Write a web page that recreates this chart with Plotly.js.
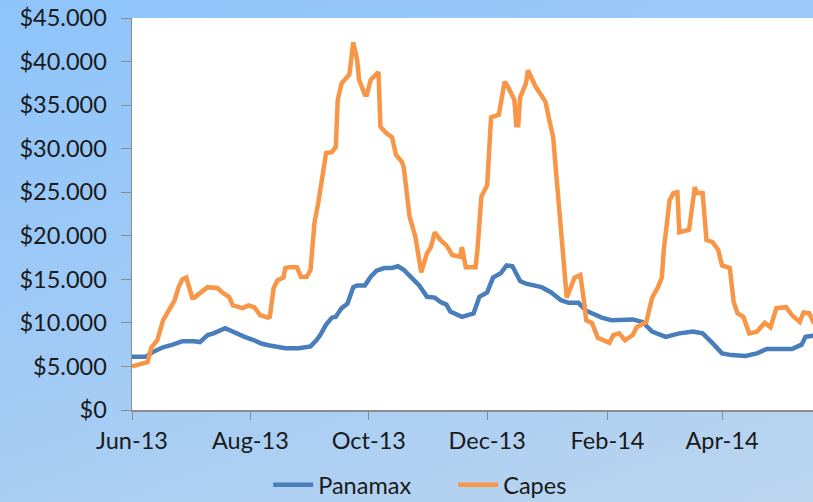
<!DOCTYPE html>
<html>
<head>
<meta charset="utf-8">
<script src="https://cdn.plot.ly/plotly-3.0.1.min.js"></script>
<style>
html,body{margin:0;padding:0;}
#bg{width:813px;height:502px;background:linear-gradient(160deg,#8ec4fa 0%,#9fcaf6 45%,#bcd5ee 100%);}
</style>
</head>
<body>
<div id="bg"><div id="chart" style="width:813px;height:502px;"></div></div>
<script>
const capesDates = ['2013-06-01','2013-06-09','2013-06-11','2013-06-14','2013-06-17','2013-06-21','2013-06-23','2013-06-25','2013-06-27','2013-06-29',
'2013-07-02','2013-07-03','2013-07-06','2013-07-10','2013-07-15','2013-07-18','2013-07-21','2013-07-23','2013-07-28','2013-07-31',
'2013-08-03','2013-08-06','2013-08-10','2013-08-11','2013-08-13','2013-08-15','2013-08-18','2013-08-19','2013-08-21','2013-08-25','2013-08-27','2013-08-30',
'2013-09-01','2013-09-03','2013-09-05','2013-09-09','2013-09-12','2013-09-14','2013-09-15','2013-09-17','2013-09-21','2013-09-23','2013-09-25','2013-09-26','2013-09-29','2013-09-30',
'2013-10-02','2013-10-06','2013-10-07','2013-10-10','2013-10-13','2013-10-15','2013-10-18','2013-10-19','2013-10-22','2013-10-25','2013-10-28','2013-10-31',
'2013-11-02','2013-11-04','2013-11-07','2013-11-10','2013-11-13','2013-11-17','2013-11-18','2013-11-20','2013-11-25','2013-11-26','2013-11-28',
'2013-12-01','2013-12-03','2013-12-07','2013-12-10','2013-12-12','2013-12-15','2013-12-16','2013-12-17','2013-12-18','2013-12-21','2013-12-22','2013-12-26','2013-12-31',
'2014-01-02','2014-01-04','2014-01-06','2014-01-09','2014-01-11','2014-01-15','2014-01-18','2014-01-20','2014-01-21','2014-01-24','2014-01-27',
'2014-02-02','2014-02-04','2014-02-07','2014-02-10','2014-02-14','2014-02-16','2014-02-21','2014-02-24','2014-02-27',
'2014-03-01','2014-03-02','2014-03-05','2014-03-07','2014-03-09','2014-03-10','2014-03-15','2014-03-18','2014-03-19','2014-03-22','2014-03-24','2014-03-27','2014-03-30',
'2014-04-01','2014-04-05','2014-04-07','2014-04-09','2014-04-12','2014-04-15','2014-04-19','2014-04-23','2014-04-26','2014-04-29',
'2014-05-04','2014-05-07','2014-05-11','2014-05-13','2014-05-16','2014-05-18','2014-05-21'];
const capesValues = [5000,5500,7200,8000,10300,11700,12600,14100,15000,15200,
12900,12900,13400,14100,14000,13400,13000,12000,11700,12000,
11800,10900,10600,10700,14000,14900,15200,16300,16400,16400,15300,15300,
16100,21500,23800,29500,29600,30200,35600,37500,38500,42200,40200,37900,36200,36200,
37900,38800,32500,31800,31300,29300,28500,27900,22200,19900,15800,18000,
18700,20400,19500,18900,17800,17600,18700,16400,16400,18400,24500,
25800,33600,33900,37700,37000,35600,32700,32700,35900,37500,39000,37100,35400,
33300,31300,26000,17200,12900,15200,15500,12300,10300,10000,8300,
7700,8600,8800,8000,8600,9500,10100,12900,14100,
15200,18400,24100,24900,25000,20400,20700,25600,24900,24900,19500,19300,18400,
16600,16300,12400,11100,10700,8800,9000,10000,9500,11700,
11800,10900,10100,11200,11100,10100,10000];

const panamaxDates = ['2013-06-01','2013-06-08','2013-06-12','2013-06-17','2013-06-22','2013-06-27',
'2013-07-03','2013-07-06','2013-07-10','2013-07-13','2013-07-19','2013-07-21','2013-07-24','2013-07-29',
'2013-08-03','2013-08-07','2013-08-11','2013-08-14','2013-08-19','2013-08-26',
'2013-09-01','2013-09-04','2013-09-06','2013-09-09','2013-09-12','2013-09-14','2013-09-17','2013-09-20','2013-09-23','2013-09-25','2013-09-29',
'2013-10-02','2013-10-05','2013-10-09','2013-10-13','2013-10-16','2013-10-18','2013-10-19','2013-10-23','2013-10-27','2013-10-31',
'2013-11-04','2013-11-07','2013-11-10','2013-11-12','2013-11-18','2013-11-24','2013-11-27',
'2013-12-01','2013-12-04','2013-12-08','2013-12-11','2013-12-14','2013-12-18','2013-12-21','2013-12-26','2013-12-29',
'2014-01-03','2014-01-08','2014-01-12','2014-01-17','2014-01-21','2014-01-29',
'2014-02-03','2014-02-09','2014-02-14','2014-02-19','2014-02-24',
'2014-03-03','2014-03-10','2014-03-17','2014-03-22','2014-03-27',
'2014-04-01','2014-04-06','2014-04-13','2014-04-19','2014-04-24','2014-04-30',
'2014-05-07','2014-05-12','2014-05-14','2014-05-17','2014-05-21'];
const panamaxValues = [6100,6100,6700,7200,7500,7900,
7900,7800,8600,8800,9400,9200,8800,8400,
8000,7600,7400,7300,7100,7100,
7300,8000,8600,9800,10600,10700,11700,12200,14100,14300,14300,
15300,16000,16300,16300,16500,16300,16100,15200,14300,13000,
12900,12400,12100,11300,10700,11100,13000,
13500,15200,15700,16600,16500,14800,14500,14300,14100,
13500,12600,12300,12300,11400,10600,
10300,10400,10400,10100,9000,
8400,8800,9000,8800,7700,
6500,6300,6200,6500,7000,7000,
7000,7500,8400,8500,8600];

const seriesNames = ['Panamax','Capes'];
const tickFont = {family:'Lato, "Open Sans", sans-serif', size:23.5, color:'#1a1a1a'};

const traces = [
  {x:panamaxDates, y:panamaxValues, name:seriesNames[0], type:'scatter', mode:'lines',
   line:{color:'#4a7ebb', width:4.5}},
  {x:capesDates, y:capesValues, name:seriesNames[1], type:'scatter', mode:'lines',
   line:{color:'#f79646', width:4.5}}
];

const layout = {
  width:813, height:502,
  margin:{l:132, r:0, t:18, b:92, autoexpand:false},
  paper_bgcolor:'rgba(0,0,0,0)',
  plot_bgcolor:'#ffffff',
  separators:',.',
  showlegend:true,
  legend:{orientation:'h', x:0.2, xanchor:'left', y:-0.135, yanchor:'top',
          font:tickFont, bgcolor:'rgba(0,0,0,0)', itemwidth:40, entrywidth:130, entrywidthmode:'pixels'},
  xaxis:{type:'date', range:['2013-06-01','2014-05-17 21:00'],
         tick0:'2013-06-01', dtick:'M2', tickformat:'%b-%y',
         showgrid:false, zeroline:false, showline:true, linecolor:'#8c8c8c', linewidth:1.5,
         ticks:'outside', ticklen:8, tickcolor:'#8c8c8c', tickfont:tickFont, ticklabelstandoff:1},
  yaxis:{range:[0,45000], dtick:5000, tickprefix:'$', tickformat:',d',
         showgrid:false, zeroline:false, showline:true, linecolor:'#8c8c8c', linewidth:1.5,
         ticks:'outside', ticklen:10, tickcolor:'#8c8c8c', tickfont:tickFont, ticklabelstandoff:9}
};

Plotly.newPlot('chart', traces, layout, {displayModeBar:false, staticPlot:true});
</script>
</body>
</html>
